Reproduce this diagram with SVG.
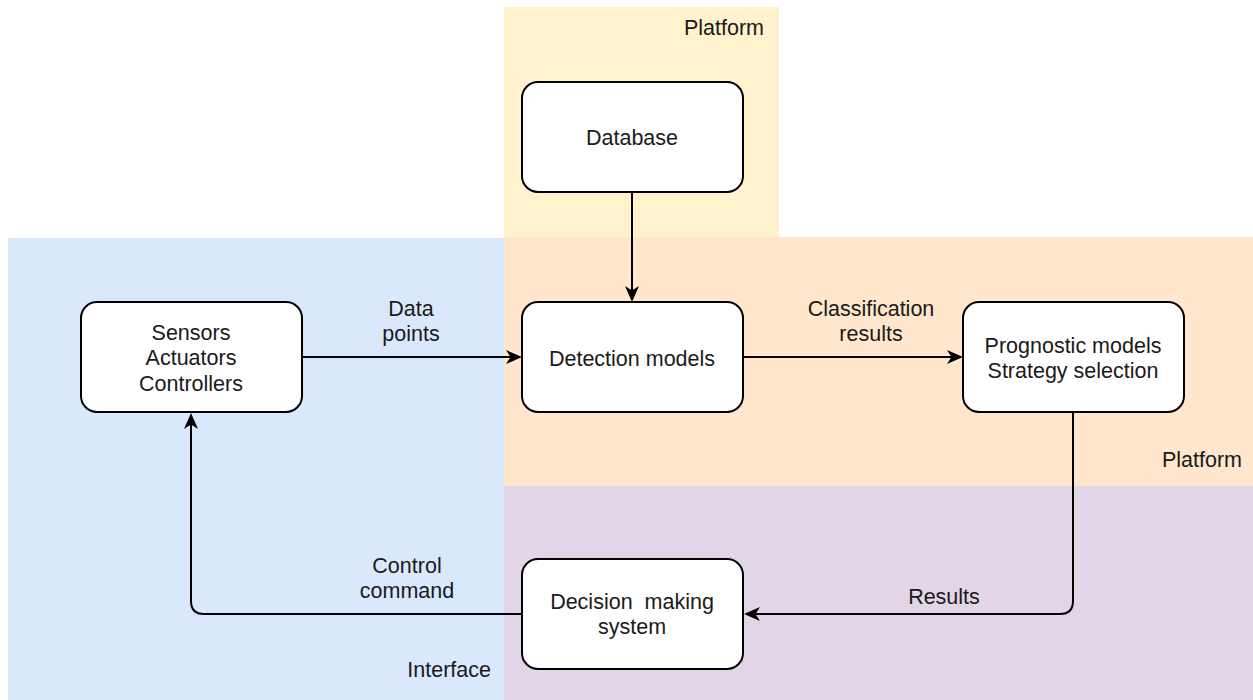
<svg xmlns="http://www.w3.org/2000/svg" width="1253" height="700" viewBox="0 0 1253 700">
  <style>
    .node rect { fill: #ffffff; stroke: #000000; stroke-width: 2; }
    text { font-family: "Liberation Sans", Arial, Helvetica, sans-serif; font-size: 21.5px; fill: #1a1a1a; }
    .c { text-anchor: middle; }
    .r { text-anchor: end; }
    .edge { fill: none; stroke: #000000; stroke-width: 2; marker-end: url(#arrow); }
  </style>
  <defs>
    <marker id="arrow" viewBox="0 0 16 14" refX="12" refY="7" markerWidth="16" markerHeight="14" markerUnits="userSpaceOnUse" orient="auto">
      <path d="M0,0 L16,7 L0,14 L4.5,7 Z" fill="#000000"/>
    </marker>
  </defs>

  <rect width="1253" height="700" fill="#ffffff"/>

  <!-- Zones -->
  <g id="zones">
    <rect x="504" y="7" width="275" height="230" fill="#fff2cc"/>
    <rect x="8" y="238" width="496" height="462" fill="#dae8fc"/>
    <rect x="504" y="237" width="749" height="249" fill="#ffe6cc"/>
    <rect x="504" y="486" width="749" height="214" fill="#e1d5e7"/>
    <text class="r" x="764" y="35">Platform</text>
    <text class="r" x="1242" y="467">Platform</text>
    <text class="r" x="491" y="677">Interface</text>
  </g>

  <!-- Connectors -->
  <g id="connectors">
    <path class="edge" d="M632,192 V298"/>
    <path class="edge" d="M302,357 H518"/>
    <path class="edge" d="M743,357 H959"/>
    <path class="edge" d="M1073,412 V601 Q1073,614 1060,614 H748"/>
    <path class="edge" d="M522,614 H204 Q191,614 191,601 V417"/>
    <text class="c" x="411" y="316">Data</text>
    <text class="c" x="411" y="341">points</text>
    <text class="c" x="871" y="316">Classification</text>
    <text class="c" x="871" y="341">results</text>
    <text class="c" x="944" y="604">Results</text>
    <text class="c" x="407" y="573">Control</text>
    <text class="c" x="407" y="598">command</text>
  </g>

  <!-- Nodes -->
  <g id="database" class="node">
    <rect x="522" y="82" width="221" height="110" rx="16"/>
    <text class="c" x="632" y="145">Database</text>
  </g>
  <g id="sensors" class="node">
    <rect x="81" y="302" width="221" height="110" rx="16"/>
    <text class="c" x="191" y="340">Sensors</text>
    <text class="c" x="191" y="365">Actuators</text>
    <text class="c" x="191" y="391">Controllers</text>
  </g>
  <g id="detection" class="node">
    <rect x="522" y="302" width="221" height="110" rx="16"/>
    <text class="c" x="632" y="366">Detection models</text>
  </g>
  <g id="prognostic" class="node">
    <rect x="963" y="302" width="221" height="110" rx="16"/>
    <text class="c" x="1073" y="353">Prognostic models</text>
    <text class="c" x="1073" y="378">Strategy selection</text>
  </g>
  <g id="decision" class="node">
    <rect x="522" y="559" width="221" height="110" rx="16"/>
    <text class="c" x="632" y="609" xml:space="preserve">Decision  making</text>
    <text class="c" x="632" y="634">system</text>
  </g>
</svg>
